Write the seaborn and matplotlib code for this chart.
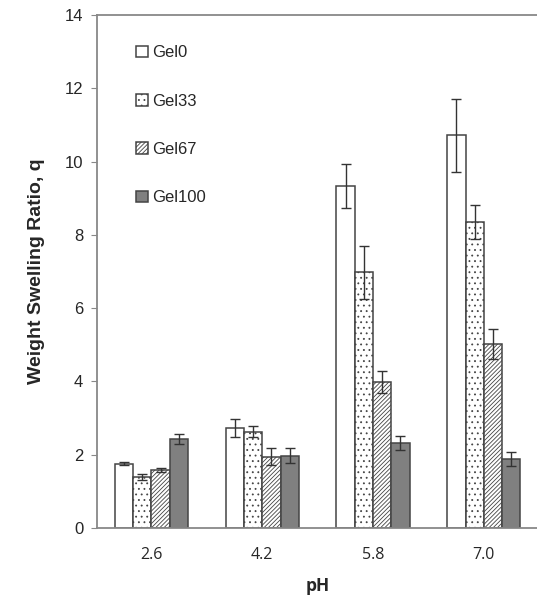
import matplotlib
matplotlib.use("Agg")
import matplotlib.pyplot as plt
import seaborn as sns
import pandas as pd

# data
ph = ["2.6", "4.2", "5.8", "7.0"]
gels = ["Gel0", "Gel33", "Gel67", "Gel100"]
q_gel0 = [1.75, 2.72, 9.33, 10.72]
q_gel33 = [1.40, 2.62, 6.98, 8.35]
q_gel67 = [1.58, 1.95, 3.98, 5.02]
q_gel100 = [2.42, 1.97, 2.32, 1.88]
err_gel0 = [0.04, 0.25, 0.60, 1.00]
err_gel33 = [0.08, 0.15, 0.72, 0.46]
err_gel67 = [0.06, 0.22, 0.30, 0.40]
err_gel100 = [0.14, 0.20, 0.20, 0.20]

vals = [q_gel0, q_gel33, q_gel67, q_gel100]
errs = [err_gel0, err_gel33, err_gel67, err_gel100]
rows = []
for g, v in zip(gels, vals):
    for p, vv in zip(ph, v):
        rows.append({"pH": p, "Gel": g, "q": vv})
df = pd.DataFrame(rows)

sns.set_style("white")
plt.rcParams["font.family"] = ["Liberation Sans", "DejaVu Sans"]
plt.rcParams["hatch.linewidth"] = 0.6

fig = plt.figure(figsize=(5.37, 6.0), dpi=100)
ax = fig.add_axes([0.181, 0.12, 0.821, 0.855])

colors = ["white", "white", "white", "#808080"]
hatches = ["", "...", "////////", ""]
edge = "#444444"

sns.barplot(data=df, x="pH", y="q", hue="Gel", order=ph, hue_order=gels,
            palette=colors, width=0.66, errorbar=None, edgecolor=edge,
            linewidth=1.1, ax=ax)

bar_groups = list(ax.containers)
for i, cont in enumerate(bar_groups):
    for j, bar in enumerate(cont):
        bar.set_hatch(hatches[i])
        bar.set_edgecolor(edge)
        cx = bar.get_x() + bar.get_width() / 2
        ax.errorbar(cx, bar.get_height(), yerr=errs[i][j], color="#333333",
                    capsize=3.5, elinewidth=1.0, capthick=1.0, zorder=5)

ax.set_ylim(0, 14)
ax.set_yticks(range(0, 15, 2))
ax.set_xlim(-0.49, 3.49)
ax.set_xlabel("pH", fontsize=12.5, fontweight="bold", family="Open Sans",
              labelpad=10)
ax.set_ylabel("Weight Swelling Ratio, q", fontsize=14, fontweight="bold",
              labelpad=14)
ax.tick_params(axis="y", length=4, color="#888888", labelsize=12, left=True,
               pad=6)
ax.tick_params(axis="x", length=0, labelsize=11.5, pad=14)
for lab in ax.get_xticklabels():
    lab.set_family("Open Sans")
for s in ["left", "bottom", "top"]:
    ax.spines[s].set_color("#888888")
    ax.spines[s].set_linewidth(1.3)
ax.spines["right"].set_visible(False)

handles = [cont[0] for cont in bar_groups]
leg = ax.legend(handles, gels, loc="upper left", bbox_to_anchor=(0.055, 0.97),
                frameon=False, fontsize=12, labelspacing=2.0,
                handlelength=0.7, handleheight=0.7, handletextpad=0.25)

fig.savefig("out.png", dpi=100)
